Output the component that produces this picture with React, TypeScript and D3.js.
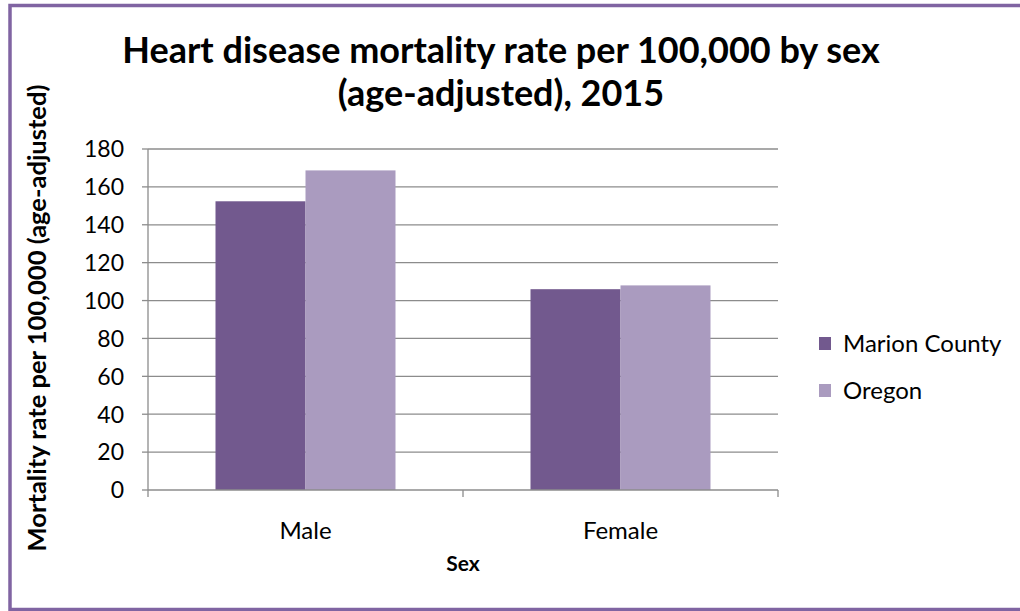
import React from "react";
import * as d3 from "d3";

const categories = ["Male", "Female"];
const seriesNames = ["Marion County", "Oregon"];
const marionCounty = [152.4, 106.0];
const oregon = [168.7, 108.0];
const yTicks = [0, 20, 40, 60, 80, 100, 120, 140, 160, 180];
const titleLines = ["Heart disease mortality rate per 100,000 by sex", "(age-adjusted), 2015"];
const yAxisTitle = "Mortality rate per 100,000 (age-adjusted)";
const xAxisTitle = "Sex";

const colors = ["#72598E", "#AA9BBF"];
const FONT = "Lato, 'Open Sans', sans-serif";

export default function App() {
  const W = 1020, H = 611;
  const left = 148, right = 778, top = 149, bottom = 490;
  const x = d3.scaleBand<string>().domain(categories).range([left, right]).padding(0);
  const xs = d3.scaleBand<string>().domain(seriesNames).range([0, x.bandwidth()]).paddingInner(0).paddingOuter(0.75);
  const y = d3.scaleLinear().domain([0, 180]).range([bottom, top]);
  const series = [marionCounty, oregon];
  const gridColor = "#8C8C8C";

  return (
    <svg width={W} height={H} style={{ position: "absolute", left: 0, top: 0, background: "#fff" }} fontFamily={FONT}>
      <rect x={0} y={0} width={W} height={H} fill="#fff" />
      <rect x={10} y={5.5} width={W + 40} height={604} fill="none" stroke="#8064A2" strokeWidth={3.5} />
      {titleLines.map((t, i) => (
        <text key={i} x={501} y={63 + i * 43} textAnchor="middle" fontSize={36} fontWeight="bold" fill="#000">{t}</text>
      ))}
      {/* gridlines */}
      {yTicks.map((v) => (
        <g key={v}>
          {v > 0 && <line x1={left} x2={right} y1={y(v)} y2={y(v)} stroke={gridColor} strokeWidth={1.3} />}
          <line x1={left - 6} x2={left} y1={y(v)} y2={y(v)} stroke={gridColor} strokeWidth={1.3} />
          <text x={124} y={y(v)} dy="0.36em" textAnchor="end" fontSize={23} fill="#000">{v}</text>
        </g>
      ))}
      {/* bars */}
      {categories.map((c, ci) => (
        <g key={c}>
          {seriesNames.map((s, si) => (
            <rect key={s} x={(x(c) as number) + (xs(s) as number)} y={y(series[si][ci])} width={xs.bandwidth()} height={y(0) - y(series[si][ci])} fill={colors[si]} />
          ))}
        </g>
      ))}
      {/* axes */}
      <line x1={left} x2={left} y1={top} y2={bottom} stroke={gridColor} strokeWidth={1.3} />
      <line x1={left} x2={right} y1={bottom} y2={bottom} stroke={gridColor} strokeWidth={1.3} />
      {[...categories.map((c) => x(c) as number), right].map((px, i) => (
        <line key={i} x1={px} x2={px} y1={bottom} y2={bottom + 7} stroke={gridColor} strokeWidth={1.3} />
      ))}
      {categories.map((c) => (
        <text key={c} x={(x(c) as number) + x.bandwidth() / 2} y={539} textAnchor="middle" fontSize={24} fill="#000">{c}</text>
      ))}
      <text x={(left + right) / 2} y={571} textAnchor="middle" fontSize={21} fontWeight="bold" fill="#000">{xAxisTitle}</text>
      <text transform={`translate(37,318) rotate(-90)`} textAnchor="middle" dy="0.36em" fontSize={25.5} fontWeight="bold" fill="#000">{yAxisTitle}</text>
      {/* legend */}
      {seriesNames.map((s, i) => (
        <g key={s} transform={`translate(819,${337 + i * 47})`}>
          <rect x={0} y={0} width={12} height={13} fill={colors[i]} />
          <text x={24} y={6.5} dy="0.36em" fontSize={24} fill="#000">{s}</text>
        </g>
      ))}
    </svg>
  );
}
